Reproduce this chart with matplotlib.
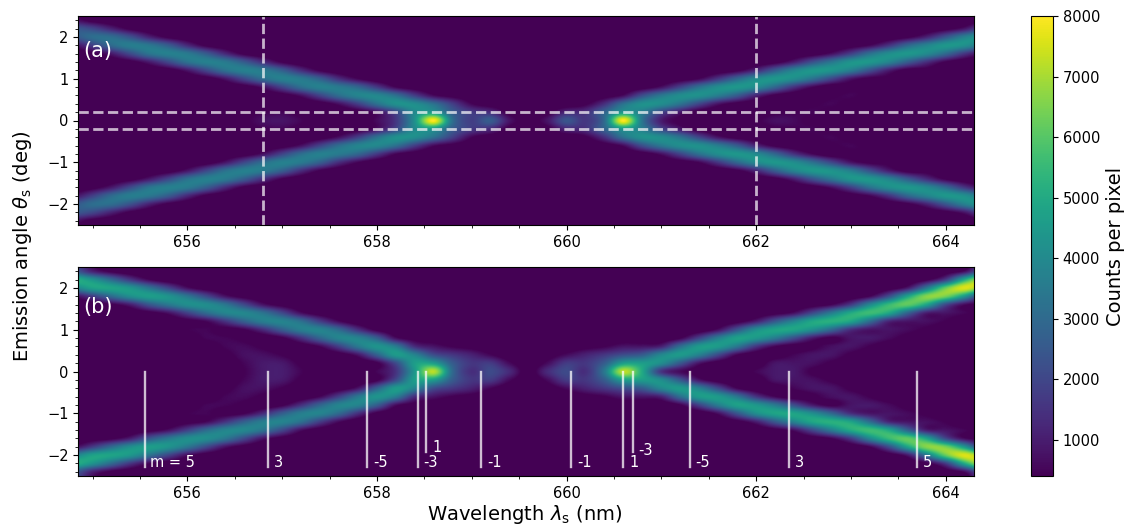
import numpy as np
import matplotlib
matplotlib.use("Agg")
import matplotlib.pyplot as plt
from matplotlib.ticker import AutoMinorLocator, MultipleLocator

# wavelength of each column (nm), upper half only (0 to 2.4 deg, step 0.2), image is mirrored
wavelengths = [654.8 + 0.2 * i for i in range(49)]

# counts / 100, one line per wavelength, rows from 0 deg up to 2.4 deg
counts_a = [
    [0, 0, 0, 0, 0, 0, 0, 0, 0, 7, 24, 25, 8],
    [0, 0, 0, 0, 0, 0, 0, 0, 2, 18, 31, 20, 2],
    [0, 0, 0, 0, 0, 0, 0, 0, 9, 30, 31, 11, 0],
    [0, 0, 0, 0, 0, 0, 0, 2, 21, 36, 23, 3, 0],
    [0, 0, 0, 0, 0, 0, 0, 9, 33, 34, 11, 0, 0],
    [0, 0, 0, 0, 0, 0, 1, 20, 37, 26, 3, 0, 0],
    [0, 0, 0, 0, 0, 0, 8, 32, 35, 13, 0, 0, 0],
    [0, 0, 0, 0, 0, 1, 20, 37, 26, 3, 0, 0, 0],
    [0, 0, 0, 0, 0, 8, 32, 35, 13, 0, 0, 0, 0],
    [3, 2, 0, 0, 1, 20, 37, 26, 3, 0, 0, 0, 0],
    [7, 4, 0, 0, 7, 31, 35, 14, 0, 0, 0, 0, 0],
    [8, 5, 0, 1, 19, 37, 27, 4, 0, 0, 0, 0, 0],
    [5, 2, 0, 7, 31, 35, 14, 0, 0, 0, 0, 0, 0],
    [0, 0, 1, 19, 37, 27, 4, 0, 0, 0, 0, 0, 0],
    [0, 0, 7, 31, 35, 14, 0, 0, 0, 0, 0, 0, 0],
    [0, 1, 18, 38, 29, 5, 0, 0, 0, 0, 0, 0, 0],
    [6, 7, 32, 39, 17, 0, 0, 0, 0, 0, 0, 0, 0],
    [16, 20, 42, 32, 5, 0, 0, 0, 0, 0, 0, 0, 0],
    [42, 40, 41, 18, 1, 0, 0, 0, 0, 0, 0, 0, 0],
    [80, 44, 32, 6, 0, 0, 0, 0, 0, 0, 0, 0, 0],
    [32, 26, 18, 2, 0, 0, 0, 0, 0, 0, 0, 0, 0],
    [18, 17, 5, 0, 0, 0, 0, 0, 0, 0, 0, 0, 0],
    [26, 13, 1, 0, 0, 0, 0, 0, 0, 0, 0, 0, 0],
    [8, 2, 0, 0, 0, 0, 0, 0, 0, 0, 0, 0, 0],
    [2, 0, 0, 0, 0, 0, 0, 0, 0, 0, 0, 0, 0],
    [8, 2, 0, 0, 0, 0, 0, 0, 0, 0, 0, 0, 0],
    [24, 12, 0, 0, 0, 0, 0, 0, 0, 0, 0, 0, 0],
    [16, 14, 3, 0, 0, 0, 0, 0, 0, 0, 0, 0, 0],
    [30, 28, 14, 1, 0, 0, 0, 0, 0, 0, 0, 0, 0],
    [80, 44, 32, 6, 0, 0, 0, 0, 0, 0, 0, 0, 0],
    [34, 36, 42, 22, 1, 0, 0, 0, 0, 0, 0, 0, 0],
    [10, 20, 41, 34, 7, 0, 0, 0, 0, 0, 0, 0, 0],
    [3, 9, 33, 41, 19, 1, 0, 0, 0, 0, 0, 0, 0],
    [0, 1, 20, 42, 32, 5, 0, 0, 0, 0, 0, 0, 0],
    [0, 0, 8, 36, 41, 16, 0, 0, 0, 0, 0, 0, 0],
    [0, 0, 2, 26, 44, 29, 3, 0, 0, 0, 0, 0, 0],
    [3, 0, 0, 12, 40, 40, 12, 0, 0, 0, 0, 0, 0],
    [7, 3, 0, 3, 29, 44, 26, 2, 0, 0, 0, 0, 0],
    [6, 4, 0, 0, 15, 41, 38, 10, 0, 0, 0, 0, 0],
    [2, 5, 3, 0, 5, 32, 44, 23, 1, 0, 0, 0, 0],
    [0, 2, 5, 3, 0, 20, 43, 34, 7, 0, 0, 0, 0],
    [0, 0, 2, 5, 3, 8, 36, 43, 18, 1, 0, 0, 0],
    [0, 0, 0, 2, 4, 3, 23, 44, 32, 5, 0, 0, 0],
    [0, 0, 0, 0, 2, 3, 10, 38, 41, 15, 0, 0, 0],
    [0, 0, 0, 0, 0, 2, 2, 26, 44, 29, 3, 0, 0],
    [0, 0, 0, 0, 0, 0, 2, 14, 40, 38, 11, 0, 0],
    [0, 0, 0, 0, 0, 0, 0, 4, 30, 44, 24, 2, 0],
    [0, 0, 0, 0, 0, 0, 0, 0, 16, 42, 37, 8, 0],
    [0, 0, 0, 0, 0, 0, 0, 0, 6, 33, 44, 21, 1],
]

counts_b = [
    [0, 0, 0, 0, 0, 0, 0, 0, 0, 6, 37, 52, 27],
    [0, 0, 0, 0, 0, 0, 0, 0, 1, 17, 47, 43, 11],
    [0, 0, 0, 0, 0, 0, 0, 0, 3, 30, 48, 30, 3],
    [0, 0, 0, 0, 0, 0, 0, 0, 10, 41, 44, 16, 0],
    [0, 0, 0, 0, 0, 0, 0, 2, 24, 46, 33, 5, 0],
    [0, 0, 0, 0, 0, 0, 0, 7, 34, 43, 20, 0, 0],
    [0, 0, 0, 0, 0, 4, 2, 18, 41, 34, 7, 0, 0],
    [0, 0, 0, 0, 5, 5, 5, 30, 41, 21, 1, 0, 0],
    [0, 0, 2, 5, 5, 2, 15, 38, 34, 8, 0, 0, 0],
    [4, 5, 7, 6, 3, 4, 27, 39, 21, 2, 0, 0, 0],
    [9, 9, 7, 3, 0, 13, 36, 33, 8, 0, 0, 0, 0],
    [10, 9, 4, 0, 3, 26, 38, 21, 2, 0, 0, 0, 0],
    [5, 3, 0, 0, 14, 36, 32, 7, 0, 0, 0, 0, 0],
    [0, 0, 0, 5, 28, 38, 18, 1, 0, 0, 0, 0, 0],
    [0, 0, 1, 18, 38, 30, 6, 0, 0, 0, 0, 0, 0],
    [0, 0, 8, 34, 38, 15, 0, 0, 0, 0, 0, 0, 0],
    [5, 3, 27, 43, 27, 3, 0, 0, 0, 0, 0, 0, 0],
    [15, 21, 45, 36, 7, 0, 0, 0, 0, 0, 0, 0, 0],
    [44, 46, 38, 14, 2, 0, 0, 0, 0, 0, 0, 0, 0],
    [72, 46, 22, 8, 1, 0, 0, 0, 0, 0, 0, 0, 0],
    [30, 26, 16, 4, 0, 0, 0, 0, 0, 0, 0, 0, 0],
    [14, 16, 11, 2, 0, 0, 0, 0, 0, 0, 0, 0, 0],
    [21, 17, 5, 0, 0, 0, 0, 0, 0, 0, 0, 0, 0],
    [13, 6, 0, 0, 0, 0, 0, 0, 0, 0, 0, 0, 0],
    [1, 0, 0, 0, 0, 0, 0, 0, 0, 0, 0, 0, 0],
    [13, 6, 1, 0, 0, 0, 0, 0, 0, 0, 0, 0, 0],
    [21, 17, 6, 0, 0, 0, 0, 0, 0, 0, 0, 0, 0],
    [14, 16, 11, 2, 0, 0, 0, 0, 0, 0, 0, 0, 0],
    [34, 26, 16, 4, 0, 0, 0, 0, 0, 0, 0, 0, 0],
    [72, 46, 22, 8, 1, 0, 0, 0, 0, 0, 0, 0, 0],
    [50, 46, 26, 8, 1, 0, 0, 0, 0, 0, 0, 0, 0],
    [16, 41, 39, 11, 0, 0, 0, 0, 0, 0, 0, 0, 0],
    [6, 25, 45, 31, 4, 0, 0, 0, 0, 0, 0, 0, 0],
    [2, 8, 37, 45, 19, 0, 0, 0, 0, 0, 0, 0, 0],
    [0, 1, 21, 45, 36, 7, 0, 0, 0, 0, 0, 0, 0],
    [0, 0, 5, 34, 47, 24, 2, 0, 0, 0, 0, 0, 0],
    [5, 0, 0, 16, 44, 41, 10, 0, 0, 0, 0, 0, 0],
    [9, 8, 1, 5, 35, 48, 25, 2, 0, 0, 0, 0, 0],
    [9, 8, 5, 1, 22, 48, 38, 7, 0, 0, 0, 0, 0],
    [3, 7, 8, 3, 9, 41, 49, 21, 1, 0, 0, 0, 0],
    [0, 3, 8, 7, 3, 29, 52, 36, 5, 0, 0, 0, 0],
    [0, 0, 3, 8, 8, 14, 48, 50, 17, 0, 0, 0, 0],
    [0, 0, 0, 4, 9, 8, 31, 56, 39, 5, 0, 0, 0],
    [0, 0, 0, 0, 6, 8, 12, 49, 55, 22, 1, 0, 0],
    [0, 0, 0, 0, 2, 6, 8, 28, 61, 48, 9, 0, 0],
    [0, 0, 0, 0, 0, 3, 7, 10, 48, 66, 34, 3, 0],
    [0, 0, 0, 0, 0, 0, 4, 8, 21, 64, 62, 17, 1],
    [0, 0, 0, 0, 0, 0, 0, 5, 6, 44, 76, 50, 6],
    [0, 0, 0, 0, 0, 0, 0, 2, 3, 15, 66, 74, 29],
]

# grating order marks in panel (b): wavelength, label, lower end of the line, label height
order_x = [655.55, 656.85, 657.9, 658.43, 658.52, 659.1, 660.05, 660.6, 660.7, 661.3, 662.35, 663.7]
order_labels = ["m = 5", "3", "-5", "-3", "1", "-1", "-1", "1", "-3", "-5", "3", "5"]
order_ends = [-2.28, -2.28, -2.28, -2.28, -1.93, -2.28, -2.28, -2.28, -1.93, -2.28, -2.28, -2.28]
label_y = [-2.17, -2.17, -2.17, -2.17, -1.83, -2.17, -2.17, -2.17, -1.88, -2.17, -2.17, -2.17]

cut_x = [656.8, 662.0]
cut_y = [-0.2, 0.2]


def full_image(columns):
    upper = np.array(columns, dtype=float).T * 100
    return np.vstack([upper[:0:-1], upper])


W, H = 1129, 530
fig = plt.figure(figsize=(W / 100, H / 100), dpi=100)
ax_a = fig.add_axes([78.3 / W, 1 - 225 / H, 896 / W, 209 / H])
ax_b = fig.add_axes([78.3 / W, 1 - 476 / H, 896 / W, 209 / H])
cax = fig.add_axes([1031 / W, 1 - 476 / H, 22 / W, 460 / H])

dx = 0.1
extent = [wavelengths[0] - dx, wavelengths[-1] + dx, -2.5, 2.5]
for ax, counts in [(ax_a, counts_a), (ax_b, counts_b)]:
    im = ax.imshow(full_image(counts), origin="lower", extent=extent, aspect="auto",
                   cmap="viridis", vmin=400, vmax=8000, interpolation="catrom")
    ax.set_xlim(654.85, 664.3)
    ax.set_ylim(-2.5, 2.5)
    ax.xaxis.set_major_locator(MultipleLocator(2))
    ax.xaxis.set_minor_locator(MultipleLocator(0.5))
    ax.yaxis.set_major_locator(MultipleLocator(1))
    ax.yaxis.set_minor_locator(AutoMinorLocator(5))
    ax.set_yticks([-2, -1, 0, 1, 2])
    ax.tick_params(labelsize=10.5)

for x in cut_x:
    ax_a.axvline(x, color="white", alpha=0.7, ls="--", lw=2)
for y in cut_y:
    ax_a.axhline(y, color="white", alpha=0.7, ls="--", lw=2)

ax_a.text(654.9, 1.67, "(a)", color="white", fontsize=15, va="center")
ax_b.text(654.9, 1.55, "(b)", color="white", fontsize=15, va="center")

for x, label, end, ly in zip(order_x, order_labels, order_ends, label_y):
    ax_b.plot([x, x], [0, end], color="white", alpha=0.75, lw=1.7)
    ax_b.text(x + 0.06, ly, label, color="white", fontsize=10.5, va="center")

cb = fig.colorbar(im, cax=cax, ticks=range(1000, 8001, 1000))
cb.ax.tick_params(labelsize=10.5)
cb.set_label("Counts per pixel", fontsize=14)

fig.text(23 / W, 1 - 246 / H, r"Emission angle $\theta_{\rm s}$ (deg)", rotation=90,
         fontsize=14, ha="center", va="center")
fig.text(525 / W, 1 - 515 / H, r"Wavelength $\lambda_{\rm s}$ (nm)",
         fontsize=14, ha="center", va="center")

fig.savefig("out.png", dpi=100)
